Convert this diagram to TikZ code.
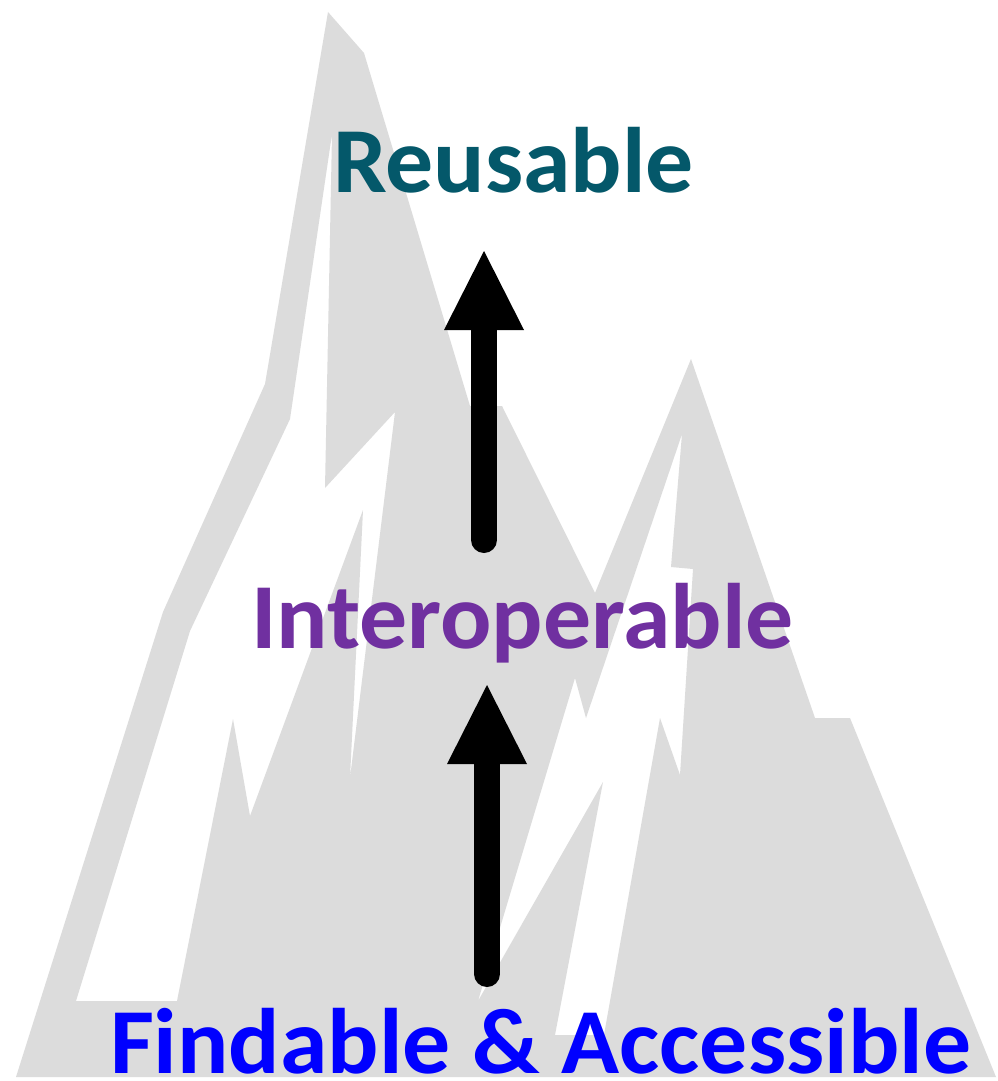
\documentclass[tikz,border=0pt]{standalone}
\usepackage{fontspec}
\setmainfont[FakeStretch=1.03]{Carlito}
\usetikzlibrary{arrows.meta}
\definecolor{rock}{HTML}{DCDCDC}
\definecolor{teallabel}{HTML}{04586A}
\definecolor{purplelabel}{HTML}{7030A0}
\definecolor{bluelabel}{HTML}{0000FF}
\tikzset{
  label text/.style={anchor=base west,inner sep=0pt,outer sep=0pt,font=\fontsize{93}{94}\selectfont\bfseries},
  up arrow/.style={line width=26pt,line cap=round,-{Triangle[length=79pt,width=80pt,sharp,line width=0pt]}},
}
\begin{document}
\begin{tikzpicture}[x=1pt,y=-1pt]
\useasboundingbox (0,0) rectangle (998,1081);
\fill[white] (0,0) rectangle (998,1081);
\fill[rock,even odd rule]
  (16,1077) -- (163,612) -- (265,384) -- (328,12) -- (364,53) -- (470,406) -- (502,406)
  -- (595,593) -- (691,359) -- (815,718) -- (850,718) -- (996,1077) -- cycle
  (76,1001) -- (190,631) -- (290,419) -- (332,134) -- (325,488) -- (395,412) -- (350,778)
  -- (363,510) -- (250,816) -- (233,719) -- (177,1001) -- cycle
  (682,434) -- (586,718) -- (575,678) -- (478,1001) -- (603,782) -- (555,1035) -- (604,1035)
  -- (660,718) -- (680,775) -- (693,569) -- (671,567) -- cycle;
\node[label text,text=teallabel] (reusable) at (333,192) {Reusable};
\node[label text,text=purplelabel] (interop) at (251,648) {Interoperable};
\node[label text,text=bluelabel] (findable) at (110,1073) {Findable \& Accessible};
\coordinate (a1start) at (484,540);
\coordinate (a1tip) at (484,251);
\coordinate (a2start) at (487,974);
\coordinate (a2tip) at (487,685);
\draw[up arrow] (a1start) -- (a1tip);
\draw[up arrow] (a2start) -- (a2tip);
\end{tikzpicture}
\end{document}
